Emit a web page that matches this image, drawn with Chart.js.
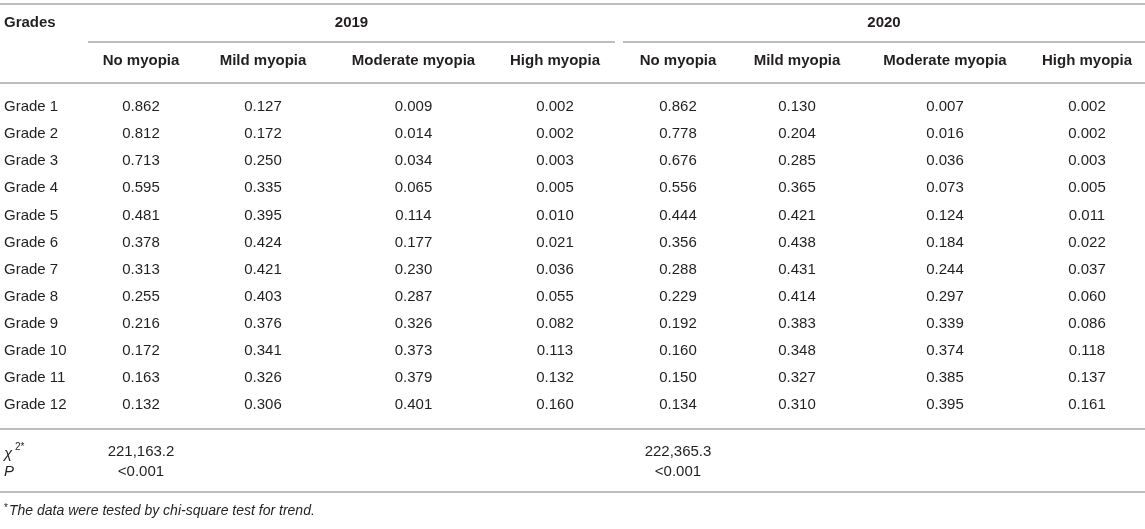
<!DOCTYPE html>
<html>
<head>
<meta charset="utf-8">
<script src="https://cdn.jsdelivr.net/npm/chart.js@4.4.1/dist/chart.umd.min.js"></script>
<style>
  html, body { margin: 0; padding: 0; background: #fff; }
  #wrap { width: 1145px; height: 529px; position: relative; }
</style>
</head>
<body>
<div id="wrap"><canvas id="myopiaTable"></canvas></div>
<script>
// Table data
const grades = ['Grade 1', 'Grade 2', 'Grade 3', 'Grade 4', 'Grade 5', 'Grade 6',
  'Grade 7', 'Grade 8', 'Grade 9', 'Grade 10', 'Grade 11', 'Grade 12'];
const years = ['2019', '2020'];
const myopiaLevels = ['No myopia', 'Mild myopia', 'Moderate myopia', 'High myopia'];

const noMyopia2019 = [0.862, 0.812, 0.713, 0.595, 0.481, 0.378, 0.313, 0.255, 0.216, 0.172, 0.163, 0.132];
const mildMyopia2019 = [0.127, 0.172, 0.250, 0.335, 0.395, 0.424, 0.421, 0.403, 0.376, 0.341, 0.326, 0.306];
const moderateMyopia2019 = [0.009, 0.014, 0.034, 0.065, 0.114, 0.177, 0.230, 0.287, 0.326, 0.373, 0.379, 0.401];
const highMyopia2019 = [0.002, 0.002, 0.003, 0.005, 0.010, 0.021, 0.036, 0.055, 0.082, 0.113, 0.132, 0.160];

const noMyopia2020 = [0.862, 0.778, 0.676, 0.556, 0.444, 0.356, 0.288, 0.229, 0.192, 0.160, 0.150, 0.134];
const mildMyopia2020 = [0.130, 0.204, 0.285, 0.365, 0.421, 0.438, 0.431, 0.414, 0.383, 0.348, 0.327, 0.310];
const moderateMyopia2020 = [0.007, 0.016, 0.036, 0.073, 0.124, 0.184, 0.244, 0.297, 0.339, 0.374, 0.385, 0.395];
const highMyopia2020 = [0.002, 0.002, 0.003, 0.005, 0.011, 0.022, 0.037, 0.060, 0.086, 0.118, 0.137, 0.161];

const chiSquare = ['221,163.2', '222,365.3'];
const pValues = ['<0.001', '<0.001'];
const footnote = 'The data were tested by chi-square test for trend.';

const series = [
  [noMyopia2019, mildMyopia2019, moderateMyopia2019, highMyopia2019],
  [noMyopia2020, mildMyopia2020, moderateMyopia2020, highMyopia2020],
];

// Layout (widths of the columns and heights of the bands, in scale units)
const colWidths = [88, 106, 138, 163, 120, 8, 110, 128, 168, 116];
const rowLayout = {
  topRule: 4,
  yearRow: 23,
  yearRule: 42,
  levelRow: 61,
  levelRule: 83,
  firstGrade: 107,
  gradeStep: 27.1,
  bodyRule: 429,
  chiRow: 452,
  pRow: 472,
  bottomRule: 492,
  noteRow: 511,
};
const totalWidth = colWidths.reduce((a, b) => a + b, 0);

// start of each column in x units
const colStarts = [];
colWidths.reduce((acc, w) => { colStarts.push(acc); return acc + w; }, 0);
const dataCols = [[1, 2, 3, 4], [6, 7, 8, 9]];

const textColor = '#231f20';
const ruleColor = '#bdbdbd';
const fontFamily = '"Liberation Sans", Arial, Helvetica, sans-serif';

const tablePlugin = {
  id: 'tablePlugin',
  afterDraw(chart) {
    const { ctx, scales: { x, y } } = chart;
    const cx = (col) => x.getPixelForValue(colStarts[col] + colWidths[col] / 2);
    const left = (col) => x.getPixelForValue(colStarts[col]);
    const right = (col) => x.getPixelForValue(colStarts[col] + colWidths[col]);

    const rule = (yv, x0, x1) => {
      ctx.save();
      ctx.strokeStyle = ruleColor;
      ctx.lineWidth = 2;
      ctx.beginPath();
      ctx.moveTo(x0, y.getPixelForValue(yv));
      ctx.lineTo(x1, y.getPixelForValue(yv));
      ctx.stroke();
      ctx.restore();
    };
    const text = (str, px, yv, align, font) => {
      ctx.save();
      ctx.fillStyle = textColor;
      ctx.font = font;
      ctx.textAlign = align;
      ctx.textBaseline = 'middle';
      ctx.fillText(str, px, y.getPixelForValue(yv));
      ctx.restore();
    };
    const normal = '15px ' + fontFamily;
    const bold = 'bold 15px ' + fontFamily;
    const italic = 'italic 15px ' + fontFamily;

    // rules
    rule(rowLayout.topRule, x.left, x.right);
    rule(rowLayout.yearRule, left(1), right(4));
    rule(rowLayout.yearRule, left(6), x.right);
    rule(rowLayout.levelRule, x.left, x.right);
    rule(rowLayout.bodyRule, x.left, x.right);
    rule(rowLayout.bottomRule, x.left, x.right);

    // header
    text('Grades', left(0) + 4, rowLayout.yearRow, 'left', bold);
    years.forEach((yr, i) => {
      const cols = dataCols[i];
      const mid = (left(cols[0]) + (i === 0 ? right(cols[3]) : x.right)) / 2;
      text(yr, mid, rowLayout.yearRow, 'center', bold);
      cols.forEach((c, j) => text(myopiaLevels[j], cx(c), rowLayout.levelRow, 'center', bold));
    });

    // body
    grades.forEach((g, r) => {
      const yv = rowLayout.firstGrade + r * rowLayout.gradeStep;
      text(g, left(0) + 4, yv, 'left', normal);
      series.forEach((yearSeries, i) => {
        yearSeries.forEach((vals, j) => {
          text(vals[r].toFixed(3), cx(dataCols[i][j]), yv, 'center', normal);
        });
      });
    });

    // statistics
    text('\u03C7', left(0) + 4, rowLayout.chiRow + 2, 'left', italic);
    text('2*', left(0) + 15, rowLayout.chiRow - 5, 'left', '10px ' + fontFamily);
    text('P', left(0) + 4, rowLayout.pRow, 'left', italic);
    years.forEach((yr, i) => {
      text(chiSquare[i], cx(dataCols[i][0]), rowLayout.chiRow, 'center', normal);
      text(pValues[i], cx(dataCols[i][0]), rowLayout.pRow, 'center', normal);
    });

    // footnote
    text('*', left(0) + 4, rowLayout.noteRow - 3, 'left', '10px ' + fontFamily);
    text(footnote, left(0) + 9, rowLayout.noteRow, 'left', 'italic 14px ' + fontFamily);
  },
};

const ctx = document.getElementById('myopiaTable').getContext('2d');
const myopiaTable = new Chart(ctx, {
  type: 'scatter',
  data: { datasets: [] },
  options: {
    responsive: true,
    maintainAspectRatio: false,
    animation: false,
    layout: { padding: 0 },
    plugins: { legend: { display: false }, tooltip: { enabled: false } },
    scales: {
      x: { type: 'linear', min: 0, max: totalWidth, display: false },
      y: { type: 'linear', min: 0, max: 529, reverse: true, display: false },
    },
  },
  plugins: [tablePlugin],
});
</script>
</body>
</html>
